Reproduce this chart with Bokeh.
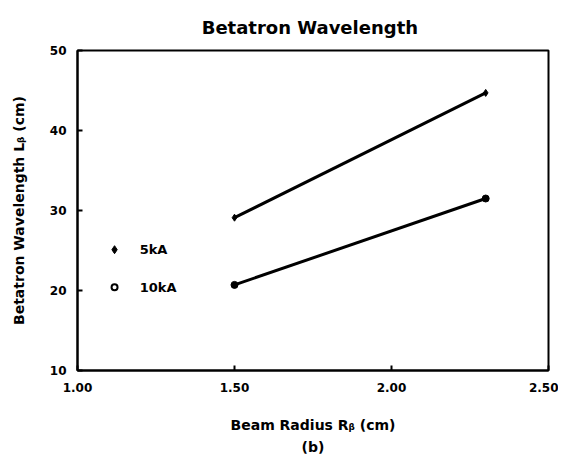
from bokeh.plotting import figure
from bokeh.models import Range1d, FixedTicker, Title, ColumnDataSource
from bokeh.core.properties import value
from bokeh.embed import file_html
from bokeh.resources import INLINE

# Data
radius = [1.5, 2.3]
series_names = ["5kA", "10kA"]
wl_5kA = [29.1, 44.7]
wl_10kA = [20.7, 31.5]
x_ticks = [1.0, 1.5, 2.0, 2.5]
x_tick_labels = ["1.00", "1.50", "2.00", "2.50"]
y_ticks = [10, 20, 30, 40, 50]
y_tick_labels = ["10", "20", "30", "40", "50"]

FONT = "DejaVu Sans"

p = figure(width=558, height=458, output_backend="svg", toolbar_location=None,
           x_range=Range1d(1.0, 2.5), y_range=Range1d(10, 50),
           min_border_left=77, min_border_right=10, min_border_top=50, min_border_bottom=88)

p.title.text = "Betatron  Wavelength"
p.title.align = "center"
p.title.text_font = FONT
p.title.text_font_size = "18px"
p.title.text_font_style = "bold"
p.title.text_color = "black"
p.title.standoff = 25

p.add_layout(Title(text="(b)", align="center", text_font=FONT, text_font_size="14px",
                   text_font_style="bold", text_color="black", standoff=3), "below")

p.grid.visible = False
p.outline_line_color = "black"
p.outline_line_width = 2
p.background_fill_color = "white"
p.border_fill_color = "white"

for ax in (p.xaxis[0], p.yaxis[0]):
    ax.axis_line_color = "black"
    ax.axis_line_width = 2
    ax.major_tick_in = 5
    ax.major_tick_out = 0
    ax.major_tick_line_width = 2
    ax.minor_tick_line_color = None
    ax.major_label_text_font = FONT
    ax.major_label_text_font_style = "bold"
    ax.major_label_text_font_size = "12px"
    ax.major_label_text_color = "black"
    ax.axis_label_text_font = FONT
    ax.axis_label_text_font_style = "bold"
    ax.axis_label_text_font_size = "14px"
    ax.axis_label_text_color = "black"

p.xaxis.ticker = FixedTicker(ticks=x_ticks)
p.xaxis.major_label_overrides = dict(zip(x_ticks, x_tick_labels))
p.yaxis.ticker = FixedTicker(ticks=y_ticks)
p.yaxis.major_label_overrides = dict(zip(y_ticks, y_tick_labels))
p.xaxis.axis_label = "Beam Radius Rᵦ (cm)"
p.yaxis.axis_label = "Betatron Wavelength Lᵦ (cm)"
p.xaxis.major_label_standoff = 12
p.yaxis.major_label_standoff = 11
p.xaxis.axis_label_standoff = 22
p.yaxis.axis_label_standoff = 20

# Series lines
p.line(radius, wl_5kA, line_color="black", line_width=3)
p.scatter(radius, wl_5kA, marker="diamond", size=7, fill_color="black", line_color="black")
p.line(radius, wl_10kA, line_color="black", line_width=3)
p.scatter(radius, wl_10kA, marker="circle", size=7, fill_color="black", line_color="black")

# Legend (manual)
leg_x = 1.118
leg_y = [25.1, 20.4]
p.scatter([leg_x], [leg_y[0]], marker="diamond", size=8, fill_color="black", line_color="black")
p.scatter([leg_x], [leg_y[1]], marker="circle", size=6, fill_color="white",
          line_color="black", line_width=2)
src = ColumnDataSource(dict(x=[leg_x + 0.08] * 2, y=leg_y, t=series_names))
p.text(x="x", y="y", text="t", source=src, text_font=value(FONT), text_font_style="bold",
       text_font_size="13px", text_baseline="middle", text_align="left", text_color="black")

open("out.html", "w").write(file_html(p, INLINE))
